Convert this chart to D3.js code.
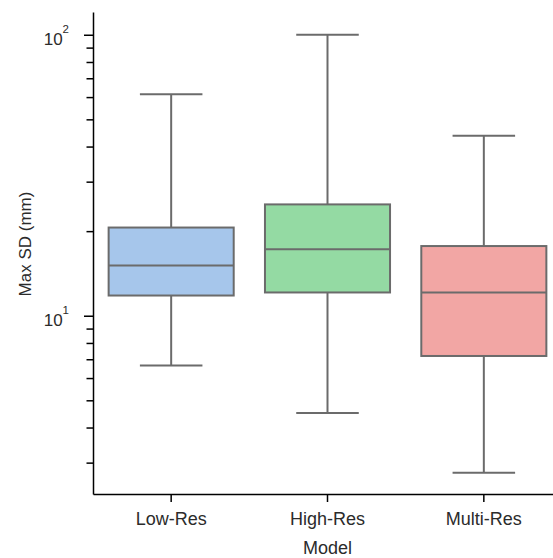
<!DOCTYPE html>
<html>
<head>
<meta charset="utf-8">
<script src="https://cdn.jsdelivr.net/npm/d3@7"></script>
<style>
  body { margin: 0; background: #fff; }
  text { font-family: "Liberation Sans", Arial, sans-serif; fill: #2b2b2b; }
</style>
</head>
<body>
<div id="chart"></div>
<script>
// box summaries (log axis)
var models = ["Low-Res", "High-Res", "Multi-Res"];
var whiskerLow = [6.65, 4.51, 2.76];
var q1 = [11.8, 12.1, 7.19];
var median = [15.1, 17.25, 12.1];
var q3 = [20.6, 24.9, 17.7];
var whiskerHigh = [61.4, 100, 43.7];
var colors = ["#a6c6eb", "#94daa3", "#f2a6a4"];
var yLim = [2.32, 120.5];
var majorTicks = [10, 100];
var minorTicks = [3, 4, 5, 6, 7, 8, 9, 20, 30, 40, 50, 60, 70, 80, 90];

const width = 553, height = 558;
const plotLeft = 93, plotRight = 562, plotTop = 12, plotBottom = 494;

const svg = d3.select("#chart")
  .append("svg")
  .attr("width", width)
  .attr("height", height);

const x = d3.scaleBand().domain(models).range([plotLeft, plotRight]).padding(0);
const y = d3.scaleLog().domain(yLim).range([plotBottom, plotTop]);

const boxW = x.bandwidth() * 0.8;
const capW = boxW * 0.5;
const edge = "#6b6b6b";

var data = models.map(function (m, i) {
  return { model: m, lo: whiskerLow[i], q1: q1[i], med: median[i], q3: q3[i], hi: whiskerHigh[i], color: colors[i] };
});

const g = svg.append("g").selectAll("g").data(data).join("g");

// whiskers
g.append("line")
  .attr("x1", function (d) { return x(d.model) + x.bandwidth() / 2; })
  .attr("x2", function (d) { return x(d.model) + x.bandwidth() / 2; })
  .attr("y1", function (d) { return y(d.q3); })
  .attr("y2", function (d) { return y(d.hi); })
  .attr("stroke", edge).attr("stroke-width", 2);
g.append("line")
  .attr("x1", function (d) { return x(d.model) + x.bandwidth() / 2; })
  .attr("x2", function (d) { return x(d.model) + x.bandwidth() / 2; })
  .attr("y1", function (d) { return y(d.q1); })
  .attr("y2", function (d) { return y(d.lo); })
  .attr("stroke", edge).attr("stroke-width", 2);
// caps
["hi", "lo"].forEach(function (k) {
  g.append("line")
    .attr("x1", function (d) { return x(d.model) + x.bandwidth() / 2 - capW / 2; })
    .attr("x2", function (d) { return x(d.model) + x.bandwidth() / 2 + capW / 2; })
    .attr("y1", function (d) { return y(d[k]); })
    .attr("y2", function (d) { return y(d[k]); })
    .attr("stroke", edge).attr("stroke-width", 2);
});
// boxes
g.append("rect")
  .attr("x", function (d) { return x(d.model) + (x.bandwidth() - boxW) / 2; })
  .attr("width", boxW)
  .attr("y", function (d) { return y(d.q3); })
  .attr("height", function (d) { return y(d.q1) - y(d.q3); })
  .attr("fill", function (d) { return d.color; })
  .attr("stroke", edge).attr("stroke-width", 2);
// medians
g.append("line")
  .attr("x1", function (d) { return x(d.model) + (x.bandwidth() - boxW) / 2; })
  .attr("x2", function (d) { return x(d.model) + (x.bandwidth() + boxW) / 2; })
  .attr("y1", function (d) { return y(d.med); })
  .attr("y2", function (d) { return y(d.med); })
  .attr("stroke", edge).attr("stroke-width", 2);

// Y axis minor ticks
svg.append("g")
  .attr("transform", `translate(${plotLeft},0)`)
  .call(d3.axisLeft(y).tickValues(minorTicks).tickSize(6.5).tickFormat(""))
  .call(function (a) { a.select(".domain").remove(); })
  .selectAll("line").attr("stroke", "#000").attr("stroke-width", 1.5);

// Y axis major ticks
const yAx = svg.append("g")
  .attr("transform", `translate(${plotLeft},0)`)
  .call(d3.axisLeft(y).tickValues(majorTicks).tickSize(9).tickSizeOuter(0).tickPadding(15));
yAx.select(".domain").attr("stroke", "#000").attr("stroke-width", 1.5);
yAx.selectAll("line").attr("stroke", "#000").attr("stroke-width", 1.5);
yAx.selectAll("text")
  .attr("dy", 9.5)
  .style("font-size", "17px")
  .each(function (d) {
    var t = d3.select(this);
    t.text("");
    t.append("tspan").text("10");
    t.append("tspan").attr("dy", -12).style("font-size", "11.5px").text(Math.round(Math.log10(d)));
  });

// X axis
const xAx = svg.append("g")
  .attr("transform", `translate(0,${plotBottom})`)
  .call(d3.axisBottom(x).tickSize(8).tickSizeOuter(0).tickPadding(10));
xAx.select(".domain").attr("stroke", "#000").attr("stroke-width", 1.5);
xAx.selectAll("line").attr("stroke", "#000").attr("stroke-width", 1.5);
xAx.selectAll("text").style("font-size", "18px");

// axis titles
svg.append("text")
  .attr("x", x("High-Res") + x.bandwidth() / 2)
  .attr("y", 554)
  .attr("text-anchor", "middle")
  .style("font-size", "18px")
  .text("Model");

svg.append("text")
  .attr("transform", "translate(31,244) rotate(-90)")
  .attr("text-anchor", "middle")
  .style("font-size", "17px")
  .text("Max SD (mm)");
</script>
</body>
</html>
